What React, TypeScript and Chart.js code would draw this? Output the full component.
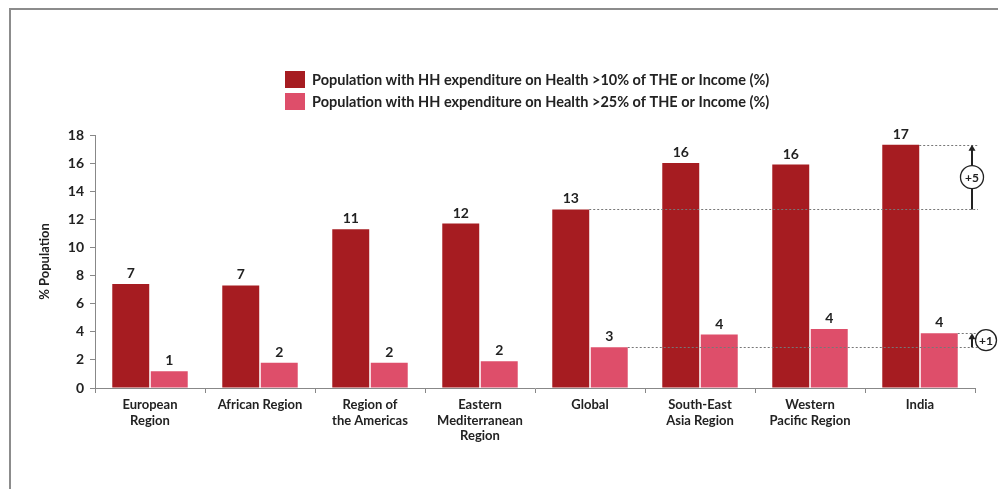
import React, { useEffect, useRef } from "react";
import { Chart, registerables } from "chart.js";

Chart.register(...registerables);

const categories: string[][] = [
  ["European", "Region"],
  ["African Region"],
  ["Region of", "the Americas"],
  ["Eastern", "Mediterranean", "Region"],
  ["Global"],
  ["South-East", "Asia Region"],
  ["Western", "Pacific Region"],
  ["India"],
];
const above10: number[] = [7.4, 7.3, 11.3, 11.7, 12.7, 16.0, 15.9, 17.3];
const above25: number[] = [1.2, 1.8, 1.8, 1.9, 2.9, 3.8, 4.2, 3.9];
const seriesNames: string[] = [
  "Population with HH expenditure on Health >10% of THE or Income (%)",
  "Population with HH expenditure on Health >25% of THE or Income (%)",
];
const yTicks: number[] = [0, 2, 4, 6, 8, 10, 12, 14, 16, 18];
const yTitle = "% Population";
const diffLabels: string[] = ["+5", "+1"];

const DARK = "#A61C21";
const PINK = "#DE4E6A";
const TEXT = "#222222";
const FONT = "Lato, 'Open Sans', sans-serif";

const overlayPlugin = {
  id: "overlay",
  afterDatasetsDraw(chart: any) {
    const ctx = chart.ctx as CanvasRenderingContext2D;
    const y = chart.scales.y;
    ctx.save();
    // value labels
    ctx.fillStyle = TEXT;
    ctx.font = `bold 14px ${FONT}`;
    ctx.textAlign = "center";
    ctx.textBaseline = "alphabetic";
    chart.data.datasets.forEach((ds: any, di: number) => {
      const meta = chart.getDatasetMeta(di);
      meta.data.forEach((bar: any, i: number) => {
        ctx.fillText(String(Math.round(ds.data[i])), bar.x, bar.y - 6);
      });
    });

    // legend
    ctx.textAlign = "left";
    ctx.textBaseline = "middle";
    chart.data.datasets.forEach((ds: any, di: number) => {
      const top = 63 + di * 22;
      ctx.fillStyle = ds.backgroundColor;
      ctx.fillRect(277, top, 20, 17);
      ctx.fillStyle = TEXT;
      ctx.font = `bold 14.5px ${FONT}`;
      ctx.fillText(ds.label, 304, top + 9, 458);
    });

    // annotations
    const m0 = chart.getDatasetMeta(0).data;
    const m1 = chart.getDatasetMeta(1).data;
    const gi = 4;
    const ii = categories.length - 1;
    const xEnd = 970;
    const arrowX = 964;
    ctx.strokeStyle = "#777";
    ctx.lineWidth = 1;
    ctx.setLineDash([2, 2]);
    const yG1 = y.getPixelForValue(above10[gi]);
    const yI1 = y.getPixelForValue(above10[ii]);
    const yG2 = y.getPixelForValue(above25[gi]);
    const yI2 = y.getPixelForValue(above25[ii]);
    const line = (x1: number, yy: number, x2: number) => {
      ctx.beginPath();
      ctx.moveTo(x1, Math.round(yy) + 0.5);
      ctx.lineTo(x2, Math.round(yy) + 0.5);
      ctx.stroke();
    };
    line(m0[gi].x + m0[gi].width / 2, yG1, xEnd);
    line(m0[ii].x + m0[ii].width / 2, yI1, xEnd);
    line(m1[gi].x + m1[gi].width / 2, yG2, xEnd);
    line(m1[ii].x + m1[ii].width / 2, yI2, xEnd);
    ctx.setLineDash([]);

    const arrow = (x: number, yTop: number, yBot: number) => {
      ctx.strokeStyle = "#222";
      ctx.fillStyle = "#222";
      ctx.lineWidth = 2;
      ctx.beginPath();
      ctx.moveTo(x, yBot);
      ctx.lineTo(x, yTop + 4);
      ctx.stroke();
      ctx.beginPath();
      ctx.moveTo(x, yTop);
      ctx.lineTo(x - 3.5, yTop + 6);
      ctx.lineTo(x + 3.5, yTop + 6);
      ctx.closePath();
      ctx.fill();
    };
    arrow(arrowX, yI1, yG1);
    arrow(arrowX, yI2, yG2);

    const circle = (cx: number, cy: number, r: number, text: string) => {
      ctx.beginPath();
      ctx.arc(cx, cy, r, 0, Math.PI * 2);
      ctx.fillStyle = "#fff";
      ctx.fill();
      ctx.strokeStyle = "#222";
      ctx.lineWidth = 1.3;
      ctx.stroke();
      ctx.fillStyle = TEXT;
      ctx.font = `bold 12px ${FONT}`;
      ctx.textAlign = "center";
      ctx.textBaseline = "middle";
      ctx.fillText(text, cx, cy + 0.5);
    };
    circle(arrowX, (yI1 + yG1) / 2, 11.5, diffLabels[0]);
    circle(978, (yI2 + yG2) / 2, 10.5, diffLabels[1]);
    ctx.restore();
  },
};

export default function App() {
  const ref = useRef<HTMLCanvasElement | null>(null);
  useEffect(() => {
    if (!ref.current) return;
    const chart = new Chart(ref.current, {
      type: "bar",
      data: {
        labels: categories as any,
        datasets: [
          { label: seriesNames[0], data: above10, backgroundColor: DARK, categoryPercentage: 0.7, barPercentage: 0.96 },
          { label: seriesNames[1], data: above25, backgroundColor: PINK, categoryPercentage: 0.7, barPercentage: 0.96 },
        ],
      },
      options: {
        animation: false,
        responsive: false,
        maintainAspectRatio: false,
        layout: { padding: { left: 20, right: 31, top: 127, bottom: 41 } },
        plugins: { legend: { display: false }, tooltip: { enabled: false } },
        scales: {
          x: {
            grid: { display: true, drawOnChartArea: false, drawTicks: true, tickLength: 5, color: "#888", offset: true },
            border: { display: true, color: "#888" },
            ticks: { color: TEXT, font: { family: FONT, size: 13, weight: "bold" }, padding: 4, maxRotation: 0, autoSkip: false },
            afterFit: (s: any) => { s.height = 60; },
          },
          y: {
            min: 0,
            max: 18,
            afterBuildTicks: (s: any) => { s.ticks = yTicks.map((v) => ({ value: v })); },
            grid: { display: true, drawOnChartArea: false, drawTicks: true, tickLength: 5, color: "#888" },
            border: { display: true, color: "#888" },
            ticks: { color: TEXT, font: { family: FONT, size: 14, weight: "bold" }, padding: 6 },
            title: { display: true, text: yTitle, color: TEXT, font: { family: FONT, size: 13, weight: "bold" }, padding: { top: 9, bottom: 0 } },
            afterFit: (s: any) => { s.width = 67; },
          },
        },
      },
      plugins: [overlayPlugin],
    } as any);
    return () => chart.destroy();
  }, []);
  return (
    <div style={{ position: "relative", width: 990, height: 481, overflow: "visible" }}>
      <canvas ref={ref} width={998} height={481} style={{ position: "absolute", left: 0, top: 0 }} />
      <div style={{ position: "absolute", left: 1, top: 0, width: 997, height: 481, borderTop: "2px solid #8c8c8c", borderLeft: "2px solid #8c8c8c", boxSizing: "border-box", pointerEvents: "none" }} />
    </div>
  );
}
